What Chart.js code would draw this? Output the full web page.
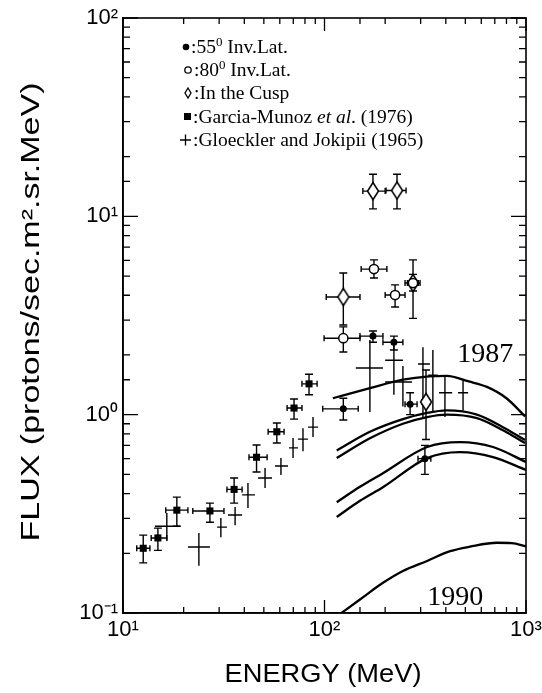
<!DOCTYPE html>
<html>
<head>
<meta charset="utf-8">
<script src="https://cdn.jsdelivr.net/npm/chart.js@4.4.1/dist/chart.umd.min.js"></script>
<style>
  html, body { margin: 0; padding: 0; background: #fff; }
  canvas { display: block; }
</style>
</head>
<body>
<canvas id="c" width="542" height="693"></canvas>
<script>
// ---------- Axis ticks ----------
const xTickValues = [10, 100, 1000];
const xTickLabels = ['10¹', '10²', '10³'];
const yTickValues = [0.1, 1, 10, 100];
const yTickLabels = ['10⁻¹', '10⁰', '10¹', '10²'];

// ---------- 55° Inv. Lat. (filled circles) ----------
const lat55E   = [124, 174, 221, 266, 315];
const lat55F   = [1.07, 2.49, 2.32, 1.13, 0.60];
const lat55ELo = [98, 150, 195, 251, 291];
const lat55EHi = [147, 195, 245, 288, 337];
const lat55FLo = [0.94, 2.32, 2.12, 1.00, 0.50];
const lat55FHi = [1.21, 2.64, 2.49, 1.29, 0.70];

// ---------- 80° Inv. Lat. (open circles) ----------
const lat80E   = [124, 176, 224, 275];
const lat80F   = [2.43, 5.42, 4.01, 4.61];
const lat80ELo = [99.5, 152, 200, 258];
const lat80EHi = [150, 204, 251, 292];
const lat80FLo = [2.07, 4.89, 3.49, 4.2];
const lat80FHi = [2.77, 6.03, 4.51, 5.1];

// ---------- In the Cusp (diamonds) ----------
const cuspE   = [174, 229, 124, 275, 319];
const cuspF   = [13.4, 13.5, 3.92, 4.61, 1.16];
const cuspELo = [155, 202, 102, 251, 305];
const cuspEHi = [200, 254, 150, 298, 335];
const cuspFLo = [10.9, 10.9, 2.83, 3.06, 0.75];
const cuspFHi = [16.3, 16.3, 5.18, 6.03, 1.68];

// ---------- Garcia-Munoz et al. (1976) (filled squares) ----------
const gmE   = [12.6, 14.9, 18.5, 27.0, 35.6, 46.0, 58.0, 70.6, 83.8];
const gmF   = [0.212, 0.239, 0.330, 0.327, 0.420, 0.610, 0.820, 1.08, 1.43];
const gmELo = [11.7, 13.8, 16.3, 22.2, 32.8, 42.2, 52.5, 65.2, 77.3];
const gmEHi = [13.6, 16.5, 21.0, 31.7, 39.0, 51.9, 63.0, 77.3, 91.9];
const gmFLo = [0.179, 0.207, 0.274, 0.287, 0.358, 0.514, 0.720, 0.95, 1.26];
const gmFHi = [0.247, 0.268, 0.384, 0.358, 0.479, 0.703, 0.908, 1.20, 1.60];

// ---------- Gloeckler and Jokipii (1965) (crosses) ----------
const gjE   = [16.5, 23.8, 30.6, 36.0, 41.7, 50.7, 60.8, 69.8, 78.2, 87.7, 168, 221, 245, 308, 345, 396, 487];
const gjF   = [0.274, 0.215, 0.271, 0.312, 0.394, 0.479, 0.551, 0.680, 0.753, 0.865, 1.72, 1.88, 1.46, 1.80, 1.58, 1.29, 1.29];
const gjELo = [14.4, 21.0, 29.3, 33.2, 39.0, 46.8, 56.8, 66.7, 73.8, 82.8, 143, 200, 200, 291, 327, 370, 460];
const gjEHi = [19.2, 27.0, 32.8, 39.0, 45.2, 54.9, 65.9, 73.8, 82.8, 92.9, 195, 245, 272, 334, 365, 430, 516];
const gjFLo = [0.233, 0.173, 0.241, 0.277, 0.338, 0.427, 0.496, 0.604, 0.654, 0.771, 1.03, 1.26, 1.10, 0.972, 1.02, 0.972, 1.05];
const gjFHi = [0.319, 0.253, 0.301, 0.342, 0.452, 0.538, 0.604, 0.762, 0.855, 0.972, 2.38, 2.24, 1.76, 2.19, 2.12, 1.58, 1.49];

// ---------- Model curves ----------
const curve1987E = [110, 168, 245, 330, 405, 520, 640, 800, 990];
const curve1987F = [1.21, 1.36, 1.50, 1.56, 1.57, 1.47, 1.38, 1.21, 0.98];
const curveBE = [115, 168, 245, 323, 405, 571, 760, 989];
const curveBF = [0.66, 0.82, 0.95, 1.02, 1.05, 1.00, 0.87, 0.745];
const curveCE = [115, 168, 245, 323, 405, 571, 760, 989];
const curveCF = [0.604, 0.76, 0.90, 0.972, 1.00, 0.96, 0.84, 0.719];
const curveDE = [115, 150, 195, 323, 470, 686, 1000];
const curveDF = [0.362, 0.433, 0.507, 0.687, 0.727, 0.687, 0.577];
const curveEE = [115, 150, 195, 323, 470, 686, 1000];
const curveEF = [0.305, 0.368, 0.431, 0.604, 0.647, 0.611, 0.526];
const curve1990E = [118, 150, 195, 245, 323, 420, 527, 718, 850, 1000];
const curve1990F = [0.098, 0.117, 0.142, 0.163, 0.183, 0.205, 0.216, 0.226, 0.225, 0.217];

// ---------- Curve annotations ----------
const curveLabels = ['1987', '1990'];
const curveLabelE = [627, 445];
const curveLabelF = [2.0, 0.12];

// ---------- Legend ----------
const legendLabels = ['55', '80', 'In the Cusp', 'Garcia-Munoz', 'Gloeckler and Jokipii (1965)'];

// ---------- helpers ----------
const pts = (xs, ys) => xs.map((v, i) => ({ x: v, y: ys[i] }));

function diamondCanvas(w, h, lw) {
  const c = document.createElement('canvas');
  c.width = Math.ceil(w + 2 * lw); c.height = Math.ceil(h + 2 * lw);
  const g = c.getContext('2d');
  g.fillStyle = '#fff'; g.strokeStyle = '#000'; g.lineWidth = lw;
  g.beginPath();
  g.moveTo(c.width / 2, lw); g.lineTo(c.width - lw, c.height / 2);
  g.lineTo(c.width / 2, c.height - lw); g.lineTo(lw, c.height / 2);
  g.closePath(); g.fill(); g.stroke();
  return c;
}
const diamond = diamondCanvas(11, 17, 1.5);

const curveStyle = {
  type: 'line', borderColor: '#000', borderWidth: 2.3, pointRadius: 0,
  cubicInterpolationMode: 'monotone', fill: false, order: 5
};

// ---------- plugins ----------
const errPlugin = {
  id: 'errbars',
  beforeDatasetsDraw(chart) {
    const { ctx, scales: { x, y } } = chart;
    const a = chart.chartArea;
    ctx.save();
    ctx.beginPath(); ctx.rect(a.left, a.top, a.right - a.left, a.bottom - a.top); ctx.clip();
    chart.data.datasets.forEach(ds => {
      if (!ds.err) return;
      const e = ds.err;
      ctx.strokeStyle = '#000'; ctx.lineWidth = 1.4;
      ds.data.forEach((p, j) => {
        const px = x.getPixelForValue(p.x), py = y.getPixelForValue(p.y);
        const x0 = x.getPixelForValue(e.xlo[j]), x1 = x.getPixelForValue(e.xhi[j]);
        const y0 = y.getPixelForValue(e.ylo[j]), y1 = y.getPixelForValue(e.yhi[j]);
        ctx.beginPath();
        ctx.moveTo(x0, py); ctx.lineTo(x1, py);
        ctx.moveTo(px, y0); ctx.lineTo(px, y1);
        if (e.caps) {
          ctx.moveTo(x0, py - 3); ctx.lineTo(x0, py + 3);
          ctx.moveTo(x1, py - 3); ctx.lineTo(x1, py + 3);
          ctx.moveTo(px - 4, y0); ctx.lineTo(px + 4, y0);
          ctx.moveTo(px - 4, y1); ctx.lineTo(px + 4, y1);
        }
        ctx.stroke();
      });
    });
    ctx.restore();
  }
};

const isPow10 = v => Math.abs(Math.log10(v) - Math.round(Math.log10(v))) < 1e-6;

const framePlugin = {
  id: 'frame',
  afterDraw(chart) {
    const { ctx, chartArea: a, scales: { x, y } } = chart;
    ctx.save();
    ctx.strokeStyle = '#000';
    ctx.lineWidth = 1.6;
    ctx.strokeRect(a.left, a.top, a.right - a.left, a.bottom - a.top);
    ctx.lineWidth = 1.3;
    x.ticks.forEach(t => {
      const px = x.getPixelForValue(t.value);
      const L = isPow10(t.value) ? 13 : 6;
      ctx.beginPath();
      ctx.moveTo(px, a.bottom); ctx.lineTo(px, a.bottom - L);
      ctx.moveTo(px, a.top); ctx.lineTo(px, a.top + L);
      ctx.stroke();
    });
    y.ticks.forEach(t => {
      const py = y.getPixelForValue(t.value);
      const L = isPow10(t.value) ? 15 : 7;
      ctx.beginPath();
      ctx.moveTo(a.left, py); ctx.lineTo(a.left + L, py);
      ctx.moveTo(a.right, py); ctx.lineTo(a.right - L, py);
      ctx.stroke();
    });
    ctx.restore();
  }
};

function drawSegs(ctx, x, y, segs) {
  let cx = x;
  segs.forEach(s => {
    ctx.font = s.font;
    ctx.fillText(s.t, cx, y + (s.dy || 0));
    cx += ctx.measureText(s.t).width;
  });
}

const textPlugin = {
  id: 'texts',
  afterDraw(chart) {
    const { ctx, scales: { x, y } } = chart;
    ctx.save();
    ctx.fillStyle = '#000'; ctx.strokeStyle = '#000';
    ctx.textBaseline = 'alphabetic'; ctx.textAlign = 'left';

    // Legend
    const serif = '"Liberation Serif", "Times New Roman", serif';
    const F = '19.5px ' + serif, Fs = '13px ' + serif, Fi = 'italic 19.5px ' + serif;
    const rows = [47, 70, 93, 117, 140];
    const tx = 192, base = 6;
    // row 1: filled circle
    ctx.beginPath(); ctx.arc(186, rows[0], 3.3, 0, Math.PI * 2); ctx.fill();
    drawSegs(ctx, tx - 1, rows[0] + base, [{ t: ':' + legendLabels[0], font: F }, { t: '0', font: Fs, dy: -7 }, { t: ' Inv.Lat.', font: F }]);
    // row 2: open circle
    ctx.lineWidth = 1.3;
    ctx.beginPath(); ctx.arc(188, rows[1], 3.2, 0, Math.PI * 2); ctx.stroke();
    drawSegs(ctx, tx + 2, rows[1] + base, [{ t: ':' + legendLabels[1], font: F }, { t: '0', font: Fs, dy: -7 }, { t: ' Inv.Lat.', font: F }]);
    // row 3: diamond
    ctx.beginPath();
    ctx.moveTo(188, rows[2] - 5); ctx.lineTo(191, rows[2]); ctx.lineTo(188, rows[2] + 5); ctx.lineTo(185, rows[2]);
    ctx.closePath(); ctx.stroke();
    drawSegs(ctx, tx + 2, rows[2] + base, [{ t: ':' + legendLabels[2], font: F }]);
    // row 4: filled square
    ctx.fillRect(184, rows[3] - 4, 7, 7);
    drawSegs(ctx, tx + 1, rows[3] + base, [{ t: ':' + legendLabels[3] + ' ', font: F }, { t: 'et al', font: Fi }, { t: '. (1976)', font: F }]);
    // row 5: plus
    ctx.beginPath();
    ctx.moveTo(180, rows[4]); ctx.lineTo(191, rows[4]);
    ctx.moveTo(185.5, rows[4] - 5.5); ctx.lineTo(185.5, rows[4] + 5.5);
    ctx.stroke();
    drawSegs(ctx, tx + 1, rows[4] + base, [{ t: ':' + legendLabels[4], font: F }]);

    // Curve year labels
    ctx.font = '28px ' + serif;
    ctx.textAlign = 'center'; ctx.textBaseline = 'middle';
    curveLabels.forEach((lab, i) => {
      ctx.fillText(lab, x.getPixelForValue(curveLabelE[i]), y.getPixelForValue(curveLabelF[i]));
    });

    // Axis titles (sans, slightly stretched like the original)
    const sans = '"Liberation Sans", Arial, Helvetica, sans-serif';
    ctx.font = '25px ' + sans;
    const xt = 'ENERGY (MeV)';
    let w = ctx.measureText(xt).width;
    ctx.save();
    ctx.translate(323, 675);
    ctx.scale(197 / w, 1);
    ctx.fillText(xt, 0, 0);
    ctx.restore();

    ctx.font = '26px ' + sans;
    const yt = 'FLUX (protons/sec.m².sr.MeV)';
    w = ctx.measureText(yt).width;
    ctx.save();
    ctx.translate(32, 312);
    ctx.rotate(-Math.PI / 2);
    ctx.scale(459 / w, 1);
    ctx.fillText(yt, 0, 0);
    ctx.restore();

    ctx.restore();
  }
};

const tickFont = { family: '"Liberation Sans", Arial, Helvetica, sans-serif', size: 22 };

const chart = new Chart(document.getElementById('c'), {
  type: 'scatter',
  data: {
    datasets: [
      Object.assign({ label: '1987', data: pts(curve1987E, curve1987F) }, curveStyle),
      Object.assign({ label: 'B', data: pts(curveBE, curveBF) }, curveStyle),
      Object.assign({ label: 'C', data: pts(curveCE, curveCF) }, curveStyle),
      Object.assign({ label: 'D', data: pts(curveDE, curveDF) }, curveStyle),
      Object.assign({ label: 'E', data: pts(curveEE, curveEF) }, curveStyle),
      Object.assign({ label: '1990', data: pts(curve1990E, curve1990F) }, curveStyle),
      {
        label: 'Gloeckler and Jokipii (1965)', data: pts(gjE, gjF), pointRadius: 0,
        err: { xlo: gjELo, xhi: gjEHi, ylo: gjFLo, yhi: gjFHi, caps: false }, order: 4
      },
      {
        label: 'Garcia-Munoz et al. (1976)', data: pts(gmE, gmF), pointStyle: 'rect', pointRadius: 5,
        backgroundColor: '#000', borderColor: '#000', borderWidth: 0,
        err: { xlo: gmELo, xhi: gmEHi, ylo: gmFLo, yhi: gmFHi, caps: true }, order: 3
      },
      {
        label: '55° Inv.Lat.', data: pts(lat55E, lat55F), pointStyle: 'circle', pointRadius: 3.5,
        backgroundColor: '#000', borderColor: '#000', borderWidth: 0,
        err: { xlo: lat55ELo, xhi: lat55EHi, ylo: lat55FLo, yhi: lat55FHi, caps: true }, order: 2
      },
      {
        label: 'In the Cusp', data: pts(cuspE, cuspF), pointStyle: diamond, pointRadius: 8,
        err: { xlo: cuspELo, xhi: cuspEHi, ylo: cuspFLo, yhi: cuspFHi, caps: true }, order: 1
      },
      {
        label: '80° Inv.Lat.', data: pts(lat80E, lat80F), pointStyle: 'circle', pointRadius: 4.6,
        backgroundColor: '#fff', borderColor: '#000', borderWidth: 1.5,
        err: { xlo: lat80ELo, xhi: lat80EHi, ylo: lat80FLo, yhi: lat80FHi, caps: true }, order: 0
      }
    ]
  },
  options: {
    responsive: false,
    animation: false,
    devicePixelRatio: 1,
    layout: { padding: { top: 18, right: 16, left: 0, bottom: 0 } },
    plugins: { legend: { display: false }, tooltip: { enabled: false } },
    scales: {
      x: {
        type: 'logarithmic', min: 10, max: 1000,
        grid: { display: true, drawOnChartArea: false, drawTicks: false },
        border: { display: true, color: '#000', width: 1.6 },
        ticks: {
          autoSkip: false, maxRotation: 0, padding: 4, color: '#000', font: tickFont,
          callback: v => { const i = xTickValues.findIndex(t => Math.abs(t - v) / t < 1e-6); return i >= 0 ? xTickLabels[i] : ''; }
        },
        afterFit: s => { s.height = 80; s.paddingLeft = 0; s.paddingRight = 0; }
      },
      y: {
        type: 'logarithmic', min: 0.1, max: 100,
        grid: { display: true, drawOnChartArea: false, drawTicks: false },
        border: { display: true, color: '#000', width: 1.6 },
        ticks: {
          autoSkip: false, padding: 5, color: '#000', font: tickFont,
          callback: v => { const i = yTickValues.findIndex(t => Math.abs(t - v) / t < 1e-6); return i >= 0 ? yTickLabels[i] : ''; }
        },
        afterFit: s => { s.width = 123; s.paddingTop = 0; s.paddingBottom = 0; }
      }
    }
  },
  plugins: [errPlugin, framePlugin, textPlugin]
});
</script>
</body>
</html>
